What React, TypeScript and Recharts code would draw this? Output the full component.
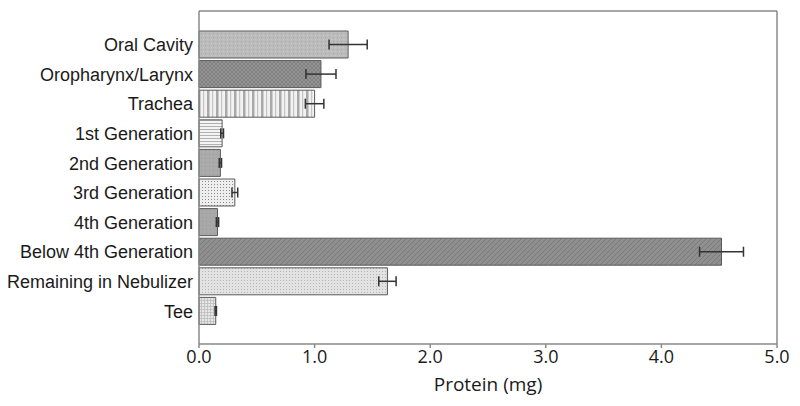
import React from 'react';
import { BarChart, Bar, XAxis, YAxis, Cell, ErrorBar } from 'recharts';

const categories = [
  'Oral Cavity',
  'Oropharynx/Larynx',
  'Trachea',
  '1st Generation',
  '2nd Generation',
  '3rd Generation',
  '4th Generation',
  'Below 4th Generation',
  'Remaining in Nebulizer',
  'Tee',
];
const proteinMg = [1.29, 1.055, 1.0, 0.2, 0.185, 0.31, 0.16, 4.52, 1.63, 0.145];
const errorMg = [0.165, 0.13, 0.08, 0.012, 0.01, 0.025, 0.01, 0.19, 0.075, 0.006];
const xTicks = [0, 1, 2, 3, 4, 5];

const data = categories.map((name, i) => ({ name, value: proteinMg[i], err: errorMg[i] }));

const Patterns = () => (
  <defs>
    <pattern id="p0" width="4" height="4" patternUnits="userSpaceOnUse">
      <rect width="4" height="4" fill="#bcbcbc" />
      <rect x="1" y="1" width="1" height="1" fill="#a8a8a8" />
      <rect x="3" y="3" width="1" height="1" fill="#cacaca" />
    </pattern>
    <pattern id="p1" width="4" height="4" patternUnits="userSpaceOnUse">
      <rect width="4" height="4" fill="#939393" />
      <path d="M0,0 L4,4 M4,0 L0,4" stroke="#7d7d7d" strokeWidth="0.8" />
    </pattern>
    <pattern id="p2" width="9" height="4" patternUnits="userSpaceOnUse">
      <rect width="9" height="4" fill="#f2f2f2" />
      <rect x="0" width="2.5" height="4" fill="#a9a9a9" />
      <rect x="5" width="1.2" height="4" fill="#c4c4c4" />
    </pattern>
    <pattern id="p3" width="4" height="3" patternUnits="userSpaceOnUse">
      <rect width="4" height="3" fill="#f4f4f4" />
      <rect y="0" width="4" height="1" fill="#b0b0b0" />
    </pattern>
    <pattern id="p4" width="4" height="4" patternUnits="userSpaceOnUse">
      <rect width="4" height="4" fill="#ababab" />
      <rect x="1" y="2" width="1" height="1" fill="#999" />
    </pattern>
    <pattern id="p5" width="3" height="3" patternUnits="userSpaceOnUse">
      <rect width="3" height="3" fill="#eeeeee" />
      <rect x="1" y="1" width="1" height="1" fill="#8a8a8a" />
    </pattern>
    <pattern id="p6" width="4" height="4" patternUnits="userSpaceOnUse">
      <rect width="4" height="4" fill="#a8a8a8" />
      <rect x="2" y="1" width="1" height="1" fill="#989898" />
    </pattern>
    <pattern id="p7" width="5" height="5" patternUnits="userSpaceOnUse">
      <rect width="5" height="5" fill="#8f8f8f" />
      <path d="M0,5 L5,0" stroke="#7a7a7a" strokeWidth="1" />
    </pattern>
    <pattern id="p8" width="3" height="3" patternUnits="userSpaceOnUse">
      <rect width="3" height="3" fill="#e2e2e2" />
      <rect x="1" y="1" width="1" height="1" fill="#b5b5b5" />
    </pattern>
    <pattern id="p9" width="3" height="3" patternUnits="userSpaceOnUse">
      <rect width="3" height="3" fill="#e6e6e6" />
      <rect x="0" y="0" width="3" height="0.8" fill="#bdbdbd" />
      <rect x="0" y="0" width="0.8" height="3" fill="#bdbdbd" />
    </pattern>
  </defs>
);

export default function App() {
  return (
    <div style={{ margin: '-8px 0 0 -8px', width: 800, height: 404 }}>
      <BarChart
        width={800}
        height={404}
        data={data}
        layout="vertical"
        margin={{ top: 10, right: 22, bottom: 0, left: 0 }}
        barSize={27}
      >
        <Patterns />
        <XAxis
          type="number"
          dataKey="value"
          domain={[0, 5]}
          ticks={xTicks}
          tickFormatter={(v: number) => v.toFixed(1)}
          axisLine={{ stroke: '#8a8a8a', strokeWidth: 1.5 }}
          tickLine={{ stroke: '#8a8a8a', strokeWidth: 1.5 }}
          tickSize={4}
          tickMargin={2}
          tick={{ fill: '#1a1a1a', fontSize: 18, fontFamily: 'Open Sans' }}
          height={60}
          label={{ value: 'Protein (mg)', position: 'insideBottom', offset: 13, fill: '#1a1a1a', fontSize: 19, fontFamily: 'Open Sans' }}
        />
        <XAxis
          xAxisId="top"
          orientation="top"
          type="number"
          domain={[0, 5]}
          tick={false}
          tickLine={false}
          height={1}
          axisLine={{ stroke: '#8a8a8a', strokeWidth: 1.5 }}
        />
        <YAxis
          type="category"
          dataKey="name"
          width={199}
          axisLine={{ stroke: '#8a8a8a', strokeWidth: 1.5 }}
          tickLine={false}
          tickSize={0}
          tickMargin={6}
          interval={0}
          padding={{ top: 19, bottom: 18 }}
          tick={{ fill: '#1a1a1a', fontSize: 18, fontFamily: 'Arial, "Liberation Sans", Helvetica, sans-serif' }}
        />
        <YAxis
          yAxisId="right"
          orientation="right"
          type="number"
          domain={[0, 1]}
          tick={false}
          tickLine={false}
          width={1}
          axisLine={{ stroke: '#8a8a8a', strokeWidth: 1.5 }}
        />
        <Bar dataKey="value" stroke="#5a5a5a" strokeWidth={1} isAnimationActive={false}>
          {data.map((d, i) => (
            <Cell key={d.name} fill={`url(#p${i})`} />
          ))}
          <ErrorBar dataKey="err" direction="x" width={5} stroke="#333" strokeWidth={1.5} />
        </Bar>
      </BarChart>
    </div>
  );
}
